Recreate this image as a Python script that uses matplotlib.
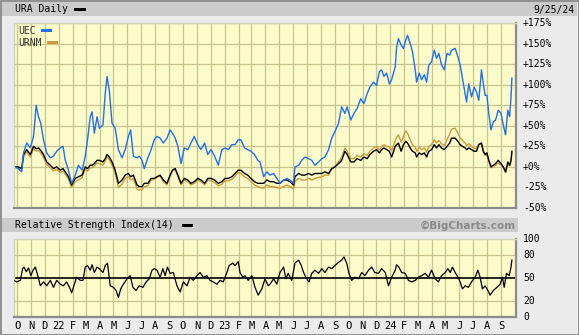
import numpy as np
import pandas as pd
import matplotlib
matplotlib.use("Agg")
import matplotlib.pyplot as plt
from matplotlib.patches import Rectangle

# ---- price performance (% change since start), sampled through the period ----
start = pd.Timestamp("2021-10-01")

day_offsets = [
    -7, 2, 10, 14, 21, 29, 36, 42, 47, 52, 58, 65, 73, 80, 87, 95, 101, 106, 113, 120,
    128, 135, 143, 150, 155, 161, 165, 170, 176, 181, 189, 194, 198, 203, 209, 216, 223, 231, 238, 245,
    250, 256, 264, 269, 275, 280, 288, 295, 302, 308, 315, 322, 330, 337, 342, 348, 354, 361, 368, 376,
    383, 390, 398, 405, 413, 420, 427, 435, 443, 451, 458, 465, 473, 480, 487, 493, 501, 508, 515, 523,
    530, 535, 543, 550, 557, 565, 572, 579, 587, 594, 601, 609, 612, 620, 627, 634, 642, 649, 656, 664,
    671, 678, 686, 693, 700, 708, 715, 722, 727, 735, 742, 749, 757, 764, 771, 777, 785, 792, 798, 803,
    808, 814, 820, 825, 833, 836, 840, 846, 851, 856, 860, 866, 871, 877, 880, 886, 891, 897, 902, 907,
    913, 919, 924, 929, 935, 941, 947, 953, 957, 965, 971, 976, 981, 987, 990, 995, 1001, 1007, 1012, 1017,
    1023, 1027, 1031, 1035, 1039, 1044, 1049, 1054, 1060, 1066, 1071, 1076, 1081, 1085, 1088, 1090,
]

uec = [
    0, -2, -6, 17, 29, 23, 37, 75, 61, 53, 33, 17, 11, 13, 19, 23, 25, 8, -4, -20,
    -10, 2, -4, 13, 33, 61, 67, 41, 61, 47, 51, 89, 110, 93, 53, 47, 21, 11, 21, 37,
    45, 13, 11, 13, 8, -2, 11, 21, 33, 37, 35, 29, 35, 45, 41, 35, 25, 4, 23, 21,
    29, 37, 27, 21, 29, 15, 21, 13, 2, 21, 23, 21, 27, 27, 33, 33, 23, 21, 19, 15,
    8, 6, -12, -6, -10, -8, -14, -20, -16, -14, -16, -20, 0, 2, 8, 12, 10, 8, 2, 6,
    10, 12, 21, 35, 43, 53, 73, 65, 73, 57, 65, 71, 83, 77, 89, 97, 103, 99, 116, 118,
    110, 114, 101, 106, 122, 146, 156, 148, 144, 154, 160, 150, 140, 118, 103, 114, 106, 112, 103, 124,
    128, 142, 132, 138, 124, 118, 138, 136, 142, 144, 134, 124, 108, 89, 79, 101, 85, 97, 91, 81,
    118, 101, 87, 87, 65, 45, 55, 57, 69, 65, 51, 39, 69, 61, 85, 108,
]

ura = [
    0, 0, -2, 15, 21, 15, 25, 22, 23, 20, 15, 6, 2, -2, 0, -4, -2, -6, -12, -22,
    -14, -12, -10, 0, -2, 2, 2, 4, 8, 8, 6, 10, 15, 12, 6, -4, -20, -16, -10, -8,
    -12, -10, -22, -24, -24, -20, -20, -14, -14, -12, -10, -16, -20, -10, -4, -2, -10, -20, -14, -16,
    -20, -18, -14, -16, -20, -14, -14, -16, -20, -18, -14, -14, -12, -8, -4, -4, -8, -10, -14, -18,
    -20, -20, -20, -16, -18, -18, -20, -20, -16, -16, -18, -22, -12, -8, -10, -10, -8, -10, -8, -8,
    -8, -6, -8, -2, 0, 4, 8, 19, 15, 6, 6, 10, 8, 12, 10, 15, 19, 21, 17, 21,
    23, 21, 19, 12, 25, 27, 29, 19, 27, 31, 29, 23, 19, 17, 12, 17, 15, 17, 12, 19,
    21, 27, 23, 27, 23, 21, 25, 29, 35, 35, 31, 27, 25, 23, 21, 23, 21, 19, 19, 27,
    29, 19, 15, 17, 8, 0, 2, 4, 8, 4, 0, -6, 6, 2, 8, 19,
]

urnm = [
    0, -1, -3, 12, 18, 12, 22, 19, 20, 17, 12, 3, -1, -5, -3, -7, -5, -9, -15, -25,
    -18, -16, -13, -3, -5, -1, -1, 1, 5, 4, 2, 7, 12, 9, 2, -8, -25, -21, -14, -12,
    -16, -14, -27, -28, -28, -24, -23, -16, -15, -13, -11, -18, -22, -11, -5, -3, -11, -22, -16, -18,
    -22, -20, -16, -18, -22, -16, -17, -19, -23, -21, -17, -17, -15, -11, -7, -8, -12, -14, -18, -22,
    -24, -25, -26, -22, -24, -24, -25, -26, -24, -22, -24, -27, -18, -14, -16, -16, -14, -16, -14, -13,
    -12, -10, -10, -3, 0, 6, 12, 23, 19, 10, 10, 14, 12, 16, 14, 19, 23, 25, 21, 25,
    27, 25, 24, 20, 32, 36, 39, 30, 37, 44, 41, 33, 27, 24, 19, 24, 21, 23, 18, 25,
    27, 33, 29, 32, 28, 26, 33, 40, 46, 47, 41, 35, 32, 29, 26, 28, 25, 23, 22, 28,
    28, 18, 14, 15, 7, -1, 1, 2, 5, 2, -1, -7, 3, 1, 6, 17,
]

# ---- RSI(14) of URA ----
rsi_days = [
    -7, -1, 7, 12, 15, 20, 25, 30, 35, 40, 45, 51, 58, 65, 73, 80, 87, 95, 102, 109,
    117, 120, 126, 131, 139, 145, 150, 155, 161, 165, 170, 176, 181, 189, 194, 199, 205, 212, 218, 223,
    228, 234, 242, 249, 255, 262, 269, 277, 284, 291, 297, 302, 308, 315, 321, 326, 331, 337, 344, 352,
    359, 366, 374, 381, 388, 396, 403, 410, 418, 425, 432, 440, 447, 454, 462, 467, 475, 480, 487, 491,
    497, 502, 509, 517, 524, 531, 539, 546, 553, 557, 565, 572, 579, 587, 592, 597, 605, 612, 620, 626,
    631, 636, 643, 649, 656, 664, 671, 678, 686, 693, 700, 708, 715, 720, 726, 731, 737, 744, 752, 759,
    766, 774, 781, 788, 796, 803, 811, 818, 825, 833, 836, 841, 847, 855, 862, 869, 877, 884, 891, 899,
    906, 913, 921, 928, 935, 943, 949, 954, 959, 965, 971, 976, 981, 987, 994, 1001, 1009, 1015, 1020, 1025,
    1031, 1037, 1042, 1049, 1057, 1064, 1069, 1073, 1078, 1084, 1088, 1090,
]

rsi = [
    47, 45, 47, 62, 64, 58, 63, 53, 60, 64, 54, 40, 45, 40, 47, 38, 47, 42, 40, 45,
    36, 31, 42, 51, 47, 47, 64, 66, 60, 67, 57, 64, 62, 57, 66, 69, 40, 38, 34, 25,
    36, 42, 49, 53, 38, 34, 40, 38, 45, 49, 60, 62, 60, 51, 62, 53, 64, 56, 57, 40,
    32, 45, 40, 51, 47, 53, 57, 51, 53, 47, 45, 42, 47, 45, 57, 66, 69, 66, 71, 57,
    51, 53, 47, 53, 38, 28, 36, 49, 40, 42, 49, 42, 57, 64, 49, 56, 47, 69, 73, 66,
    57, 51, 45, 56, 60, 56, 62, 57, 64, 62, 66, 70, 73, 77, 69, 56, 47, 51, 49, 57,
    53, 60, 64, 57, 56, 62, 57, 40, 51, 60, 67, 64, 57, 56, 47, 45, 47, 51, 53, 56,
    51, 60, 49, 45, 53, 57, 62, 57, 64, 57, 51, 45, 36, 40, 38, 45, 51, 60, 51, 36,
    40, 34, 28, 34, 38, 42, 51, 38, 56, 53, 64, 73,
]

pct_ticks = [175, 150, 125, 100, 75, 50, 25, 0, -25, -50]
rsi_ticks = [100, 80, 50, 20, 0]
month_labels = ["O", "N", "D", "22", "F", "M", "A", "M", "J", "J", "A", "S",
                "O", "N", "D", "23", "F", "M", "A", "M", "J", "J", "A", "S",
                "O", "N", "D", "24", "F", "M", "A", "M", "J", "J", "A", "S"]

dates = start + pd.to_timedelta(day_offsets, unit="D")
rsi_dates = start + pd.to_timedelta(rsi_days, unit="D")
month_starts = pd.date_range("2021-10-01", periods=len(month_labels), freq="MS")

# ---- styling ----
W, H = 579, 335
BG = "#ebebeb"
BAR = "#cbcbcb"
PANEL = "#fcfccb"
GRID = "#c9c48e"
BLUE = "#1f6ff0"
TAN = "#cc9a3c"
MONO = "DejaVu Sans Mono"


def fx(x):
    return x / W


def fy(y):
    return 1 - y / H


def box(x0, y0, x1, y1, **kw):
    fig.add_artist(Rectangle((fx(x0), fy(y1)), (x1 - x0) / W, (y1 - y0) / H,
                             transform=fig.transFigure, **kw))


def style_panel(ax):
    ax.set_facecolor(PANEL)
    for side in ("left", "top"):
        ax.spines[side].set_color("#d2d2c0")
        ax.spines[side].set_linewidth(1)
    for side in ("right", "bottom"):
        ax.spines[side].set_color("#8c8c8c")
        ax.spines[side].set_linewidth(1.6)
    ax.set_xticks(month_starts)
    ax.tick_params(length=0, labelleft=False, labelbottom=False)
    ax.grid(True, color=GRID, lw=0.9)
    ax.set_axisbelow(True)


def right_label(ax, v, text):
    ax.annotate(text, (1.0, v), xycoords=ax.get_yaxis_transform(),
                xytext=(5, 0), textcoords="offset points", ha="left", va="center",
                fontsize=7, family=MONO, color="black", annotation_clip=False)


fig = plt.figure(figsize=(W / 100, H / 100), dpi=100, facecolor=BG)

# frame and header bars
box(0.5, 0.5, W - 0.5, H - 0.5, facecolor="none", edgecolor="#808080", lw=1.2, zorder=0)
box(2, 2, W - 2, 16, facecolor=BAR, edgecolor="none", zorder=0)
box(2, 218, 518, 232, facecolor=BAR, edgecolor="none", zorder=0)

xlim = (start - pd.Timedelta(days=7), start + pd.Timedelta(days=1099))

# ---- main performance panel ----
ax = fig.add_axes([fx(14), fy(208), 502 / W, 185 / H])
style_panel(ax)
ax.plot(dates, urnm, color=TAN, lw=1.0)
ax.plot(dates, ura, color="black", lw=1.0)
ax.plot(dates, uec, color=BLUE, lw=1.0)
ax.set_xlim(xlim)
ax.set_ylim(-50, 175)
ax.set_yticks(pct_ticks)
for v in pct_ticks:
    right_label(ax, v, "+0%" if v == 0 else f"{v:+d}%")

# in-panel legend
fig.text(fx(18), fy(30.5), "UEC", fontsize=7, family=MONO, color="#333333", va="center")
box(41, 29.5, 52, 32, facecolor=BLUE, edgecolor="none")
fig.text(fx(18), fy(42.5), "URNM", fontsize=7, family=MONO, color="#333333", va="center")
box(47, 41.5, 58, 44, facecolor=TAN, edgecolor="none")

# header texts
fig.text(fx(15), fy(9.5), "URA Daily", fontsize=7, family=MONO, va="center")
box(74, 8, 86, 11, facecolor="black", edgecolor="none")
fig.text(fx(575), fy(9.5), "9/25/24", fontsize=7, family=MONO, va="center", ha="right")
fig.text(fx(15), fy(225.5), "Relative Strength Index(14)", fontsize=7, family=MONO, va="center")
box(182, 224, 193, 227, facecolor="black", edgecolor="none")
fig.text(fx(516), fy(225.5), "\u00a9BigCharts.com", fontsize=7.5, weight="bold",
         color="#8a8a8a", va="center", ha="right")

# ---- RSI panel ----
ax2 = fig.add_axes([fx(14), fy(317), 502 / W, 78 / H])
style_panel(ax2)
ax2.set_xlim(xlim)
ax2.set_ylim(0, 100)
ax2.set_yticks([20, 80])
ax2.axhline(50, color="black", lw=1.2, zorder=2)
ax2.plot(rsi_dates, rsi, color="black", lw=0.9, zorder=3)
for v in rsi_ticks:
    right_label(ax2, v, str(v))
for d, lab in zip(month_starts, month_labels):
    ax2.text(d, -0.05, lab, transform=ax2.get_xaxis_transform(), ha="center", va="top",
             fontsize=7.5, family=MONO)

fig.savefig("out.png", dpi=100, facecolor=BG)
